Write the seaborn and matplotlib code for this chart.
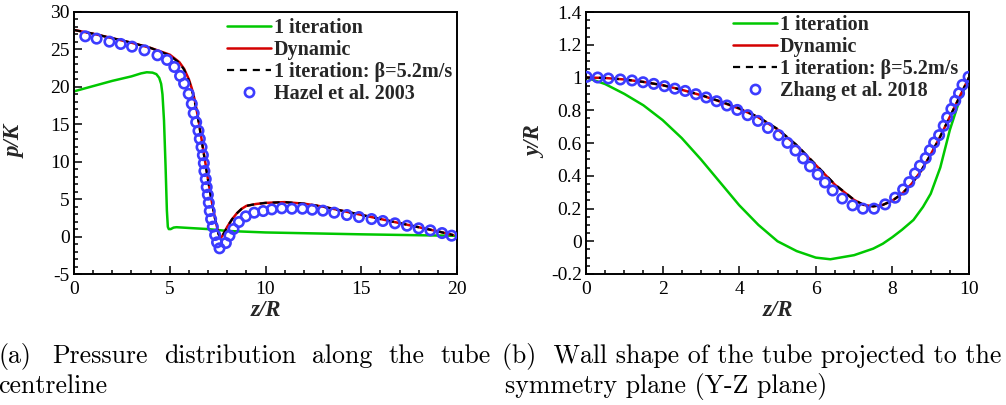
import numpy as np
import pandas as pd
import matplotlib
matplotlib.use("Agg")
import matplotlib.pyplot as plt
from matplotlib.ticker import MultipleLocator, FormatStrFormatter
from matplotlib.lines import Line2D
import seaborn as sns

# ---------------- (a) pressure along the tube centreline ----------------
p_iter1_z = [0.0, 1.0, 2.0, 3.0, 3.5, 3.8, 4.1, 4.3, 4.45, 4.55, 4.62, 4.7, 4.78, 4.85, 4.9, 4.95, 5.05,
             5.2, 5.35, 6.0, 7.0, 8.0, 10.0, 12.0, 15.0, 18.0, 20.0]
p_iter1_v = [19.4, 20.1, 20.8, 21.4, 21.8, 21.95, 21.9, 21.7, 21.2, 20.4, 19.0, 15.5, 9.5, 3.5, 1.3,
             1.0, 1.0, 1.2, 1.25, 1.15, 1.0, 0.75, 0.55, 0.45, 0.3, 0.18, 0.1]

p_dyn_z = [0.0, 1.0, 2.0, 3.0, 4.0, 5.0, 5.5, 5.75, 6.0, 6.15, 6.3, 6.5, 6.8, 7.0, 7.2, 7.4, 7.55, 7.65,
           7.75, 7.9, 8.0, 8.25, 8.5, 8.75, 9.0, 9.5, 10.0, 11.0, 12.0, 13.0, 14.0, 15.0, 16.0, 17.0,
           18.0, 19.0, 19.8]
p_dyn_v = [27.6, 27.1, 26.5, 25.9, 25.2, 24.3, 23.3, 22.4, 21.0, 19.8, 18.3, 15.6, 10.8, 7.6, 4.6, 2.0,
           0.4, -0.2, 0.1, 0.8, 1.3, 2.3, 3.1, 3.7, 4.1, 4.35, 4.5, 4.6, 4.4, 4.0, 3.45, 2.9, 2.35, 1.8,
           1.25, 0.7, 0.2]

p_beta_z = p_dyn_z
p_beta_v = [27.6, 27.1, 26.5, 25.9, 25.2, 24.2, 23.2, 22.3, 20.8, 19.6, 18.1, 15.4, 10.7, 7.5, 4.5, 1.9,
            0.3, -0.2, 0.1, 0.8, 1.3, 2.3, 3.1, 3.7, 4.1, 4.35, 4.5, 4.6, 4.4, 4.0, 3.45, 2.9, 2.35, 1.8,
            1.25, 0.7, 0.2]

hazel_z = [0.59, 1.18, 1.85, 2.44, 3.03, 3.68, 4.36, 4.86, 5.24, 5.54, 5.75, 5.99, 6.15, 6.25, 6.38,
           6.50, 6.57, 6.66, 6.73, 6.78, 6.81, 6.88, 6.93, 6.99, 7.04, 7.09, 7.16, 7.25, 7.37, 7.47,
           7.60, 7.93, 8.12, 8.33, 8.61, 8.97, 9.41, 9.88, 10.33, 10.85, 11.38, 11.93, 12.44, 13.00,
           13.59, 14.25, 14.88, 15.54, 16.13, 16.76, 17.39, 18.00, 18.61, 19.22, 19.72]
hazel_p = [26.75, 26.44, 26.04, 25.73, 25.37, 24.88, 24.22, 23.60, 22.66, 21.46, 20.44, 19.06, 17.73,
           16.48, 15.28, 14.13, 13.06, 11.95, 10.88, 9.81, 8.75, 7.68, 6.61, 5.59, 4.52, 3.41, 2.34,
           1.32, 0.21, -0.77, -1.57, -0.86, 0.12, 1.01, 1.94, 2.70, 3.19, 3.41, 3.63, 3.77, 3.72, 3.72,
           3.59, 3.46, 3.19, 2.88, 2.61, 2.34, 2.08, 1.77, 1.45, 1.10, 0.83, 0.47, 0.12]

# ---------------- (b) wall shape on the symmetry plane ----------------
w_iter1_z = [0.0, 0.5, 1.0, 1.5, 2.0, 2.5, 3.0, 3.5, 4.0, 4.5, 5.0, 5.5, 6.0, 6.38, 7.0, 7.5, 7.75,
             8.0, 8.25, 8.55, 8.8, 9.0, 9.25, 9.5, 9.75, 10.0]
w_iter1_v = [1.0, 0.96, 0.90, 0.83, 0.74, 0.63, 0.50, 0.36, 0.22, 0.10, 0.0, -0.06, -0.10, -0.11,
             -0.085, -0.045, -0.015, 0.025, 0.07, 0.13, 0.21, 0.29, 0.45, 0.68, 0.86, 1.0]

w_dyn_z = [0.0, 0.5, 1.0, 1.5, 2.0, 2.5, 3.0, 3.5, 4.0, 4.5, 5.0, 5.5, 6.0, 6.5, 7.0, 7.25, 7.5, 7.75,
           8.0, 8.25, 8.5, 8.75, 9.0, 9.25, 9.5, 9.75, 10.0]
w_dyn_v = [1.0, 0.997, 0.988, 0.973, 0.953, 0.925, 0.892, 0.853, 0.81, 0.757, 0.683, 0.585, 0.465, 0.345,
           0.252, 0.222, 0.213, 0.222, 0.248, 0.29, 0.35, 0.43, 0.53, 0.64, 0.76, 0.88, 1.0]

w_beta_z = w_dyn_z
w_beta_v = [1.0, 0.997, 0.988, 0.973, 0.953, 0.925, 0.893, 0.855, 0.812, 0.759, 0.686, 0.588, 0.468, 0.347,
            0.253, 0.222, 0.213, 0.222, 0.248, 0.29, 0.35, 0.43, 0.53, 0.64, 0.76, 0.88, 1.0]

zhang_z = [0.017, 0.305, 0.584, 0.897, 1.202, 1.49, 1.77, 2.05, 2.32, 2.59, 2.87, 3.14, 3.41, 3.68,
           3.95, 4.22, 4.49, 4.75, 5.03, 5.26, 5.47, 5.67, 5.85, 6.05, 6.24, 6.44, 6.69, 6.96, 7.23,
           7.52, 7.81, 8.07, 8.28, 8.44, 8.59, 8.72, 8.87, 8.98, 9.09, 9.22, 9.34, 9.43, 9.54, 9.64,
           9.74, 9.83, 9.99]
zhang_y = [1.004, 1.000, 0.994, 0.988, 0.982, 0.971, 0.961, 0.947, 0.932, 0.918, 0.898, 0.878, 0.855,
           0.829, 0.802, 0.770, 0.735, 0.692, 0.648, 0.601, 0.554, 0.506, 0.457, 0.408, 0.359, 0.310,
           0.261, 0.219, 0.199, 0.199, 0.225, 0.266, 0.316, 0.361, 0.414, 0.461, 0.508, 0.556, 0.603,
           0.648, 0.705, 0.756, 0.808, 0.857, 0.904, 0.955, 1.004]

labels_a = ["1 iteration", "Dynamic", "1 iteration: \u03b2=5.2m/s", "Hazel et al. 2003"]
labels_b = ["1 iteration", "Dynamic", "1 iteration: \u03b2=5.2m/s", "Zhang et al. 2018"]
caption_a_words = ["(a)", "Pressure", "distribution", "along", "the", "tube"]
caption_a_line2 = "centreline"
caption_b_line1 = "(b)  Wall shape of the tube projected to the"
caption_b_line2 = "symmetry plane (Y-Z plane)"

GREEN = "#00c800"
RED = "#d40000"
BLUE = "#3c3cff"
SERIF = ["Liberation Serif", "DejaVu Serif"]

sns.set_theme(style="ticks")
plt.rcParams["font.family"] = SERIF
plt.rcParams["axes.unicode_minus"] = False
plt.rcParams["axes.linewidth"] = 1.4

W, H = 1006, 405
fig = plt.figure(figsize=(W / 100, H / 100), dpi=100)


def px_axes(l, t, r, b):
    return fig.add_axes([l / W, 1 - b / H, (r - l) / W, (b - t) / H])


ax1 = px_axes(74, 12, 457, 274)
ax2 = px_axes(586, 12, 969, 274)

DASH = (0, (3.2, 2.6))


def draw_panel(ax, zi, vi, zd, vd, zb, vb, zm, vm):
    sns.lineplot(x=zi, y=vi, ax=ax, color=GREEN, lw=1.8, sort=False, estimator=None)
    sns.lineplot(x=zd, y=vd, ax=ax, color=RED, lw=1.8, sort=False, estimator=None)
    sns.lineplot(x=zb, y=vb, ax=ax, color="black", lw=1.6, sort=False, estimator=None,
                 linestyle=DASH)
    sns.scatterplot(x=zm, y=vm, ax=ax, marker="o", s=46, facecolor="none",
                    edgecolor=BLUE, linewidth=1.9, zorder=5)
    return [
        Line2D([], [], color=GREEN, lw=1.8),
        Line2D([], [], color=RED, lw=1.8),
        Line2D([], [], color="black", lw=1.6, linestyle=DASH),
        Line2D([], [], color=BLUE, marker="o", ls="none", ms=6.6, mfc="none", mew=1.9),
    ]


h1 = draw_panel(ax1, p_iter1_z, p_iter1_v, p_dyn_z, p_dyn_v, p_beta_z, p_beta_v, hazel_z, hazel_p)
h2 = draw_panel(ax2, w_iter1_z, w_iter1_v, w_dyn_z, w_dyn_v, w_beta_z, w_beta_v, zhang_z, zhang_y)

ax1.set_xlim(0, 20)
ax1.set_ylim(-5, 30)
ax1.xaxis.set_major_locator(MultipleLocator(5))
ax1.xaxis.set_minor_locator(MultipleLocator(1))
ax1.yaxis.set_major_locator(MultipleLocator(5))
ax1.yaxis.set_minor_locator(MultipleLocator(1))

ax2.set_xlim(0, 10)
ax2.set_ylim(-0.2, 1.4)
ax2.xaxis.set_major_locator(MultipleLocator(2))
ax2.xaxis.set_minor_locator(MultipleLocator(0.5))
ax2.yaxis.set_major_locator(MultipleLocator(0.2))
ax2.yaxis.set_minor_locator(MultipleLocator(0.05))
ax2.yaxis.set_major_formatter(FormatStrFormatter("%g"))

label_font = dict(family=SERIF, fontsize=16.5, fontweight="bold", fontstyle="italic")
for ax, ylab, yx in [(ax1, "p/K", -0.126), (ax2, "y/R", -0.104)]:
    ax.tick_params(which="both", direction="in", top=False, right=False,
                   labelsize=14, colors="black", width=1.1)
    ax.tick_params(which="major", length=6)
    ax.tick_params(which="minor", length=3)
    ax.tick_params(axis="y", pad=3)
    ax.tick_params(axis="x", pad=5)
    for s in ax.spines.values():
        s.set_color("black")
        s.set_linewidth(1.4)
    ax.set_xlabel("z/R", **label_font)
    ax.set_ylabel(ylab, **label_font)
    ax.xaxis.set_label_coords(0.5, -0.1)
    ax.yaxis.set_label_coords(yx, 0.505)

leg_kw = dict(loc="upper left", frameon=False, borderpad=0, borderaxespad=0,
              handlelength=2.2, handletextpad=0.12, labelspacing=0.1,
              prop=dict(family=SERIF, size=14.5, weight="bold"),
              bbox_transform=fig.transFigure)
ax1.legend(h1, labels_a, bbox_to_anchor=(227 / W, 1 - 18 / H), **leg_kw)
ax2.legend(h2, labels_b, bbox_to_anchor=(733 / W, 1 - 15 / H), **leg_kw)

# sub-figure captions; the first line of (a) is justified between its margins
cap_font = dict(family="cmr10", fontsize=18.6, color="black")
base1 = 1 - 363 / H
base2 = 1 - 393 / H
fig.text(-2 / W, base1, caption_a_words[0], ha="left", va="baseline", **cap_font)
renderer = fig.canvas.get_renderer()
words = caption_a_words[1:]
probes = [fig.text(0, 0, w, **cap_font) for w in words]
widths = [t.get_window_extent(renderer).width for t in probes]
for t in probes:
    t.remove()
x_left, x_right = 52, 491
gap = (x_right - x_left - sum(widths)) / (len(words) - 1)
x = x_left
for w, wd in zip(words, widths):
    fig.text(x / W, base1, w, ha="left", va="baseline", **cap_font)
    x += wd + gap
fig.text(-2 / W, base2, caption_a_line2, ha="left", va="baseline", **cap_font)
fig.text(502 / W, base1, caption_b_line1, ha="left", va="baseline", **cap_font)
fig.text(505 / W, base2, caption_b_line2, ha="left", va="baseline", **cap_font)

fig.savefig("out.png", dpi=100)
